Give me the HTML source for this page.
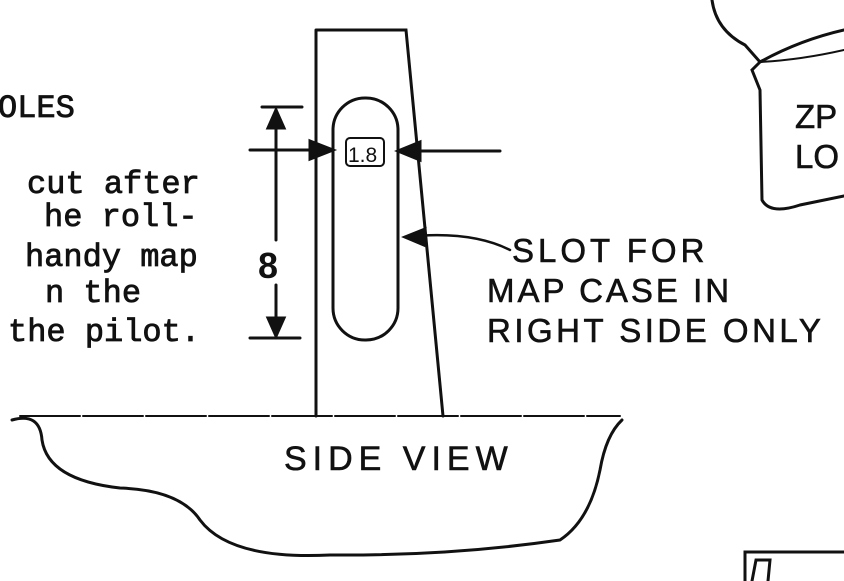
<!DOCTYPE html>
<html><head><meta charset="utf-8"><style>
html,body{margin:0;padding:0;background:#fff;width:844px;height:581px;overflow:hidden}
svg{display:block}
.mono{font-family:"Liberation Mono",monospace;font-size:32px;fill:#111;stroke:#111;stroke-width:0.8}
.hand{font-family:"Liberation Sans",sans-serif;font-size:33px;fill:#111;stroke:#111;stroke-width:0.6}
</style></head><body>
<svg width="844" height="581" viewBox="0 0 844 581" stroke="#111" fill="none" stroke-width="3" stroke-linecap="round">
<g>
<text class="mono" x="-2" y="117">OLES</text>
<text class="mono" x="27" y="193">cut after</text>
<text class="mono" x="44" y="226">he roll-</text>
<text class="mono" x="25" y="266">handy map</text>
<text class="mono" x="45" y="302">n the</text>
<text class="mono" x="8" y="341">the pilot.</text>
</g>
<g>
<path d="M316 30 L406 30 L443 416 M316 30 L316 416"/>
<rect x="333" y="98" width="65" height="242" rx="32" ry="32"/>
<rect x="346" y="138" width="38" height="28" rx="4" stroke-width="2"/>
</g>
<text x="348" y="162" stroke="none" fill="#111" style="font-family:'Liberation Sans',sans-serif;font-size:21px">1.8</text>
<g>
<path d="M262 107 L302 107 M250 338 L300 338 M276 110 L276 240 M276 285 L276 336"/>
<path d="M268 128 L276 110 L284 128 Z M268 318 L276 336 L284 318 Z" fill="#111"/>
</g>
<text x="258" y="278" stroke="none" fill="#111" style="font-family:'Liberation Sans',sans-serif;font-size:36px;font-weight:bold">8</text>
<g>
<path d="M250 150 L333 150 M398 151 L500 151"/>
<path d="M310 141 L333 150 L310 159 Z M420 142 L398 151 L420 160 Z" fill="#111"/>
</g>
<g>
<path d="M405 237 Q470 230 510 250" stroke-width="2.5"/>
<path d="M405 237 L425 229 L424 245 Z" fill="#111"/>
</g>
<g>
<text class="hand" x="512" y="262" style="letter-spacing:4px">SLOT FOR</text>
<text class="hand" x="487" y="302" style="letter-spacing:3px">MAP CASE IN</text>
<text class="hand" x="487" y="342" style="letter-spacing:3.5px">RIGHT SIDE ONLY</text>
<text class="hand" x="284" y="470" style="letter-spacing:6px;font-size:34px">SIDE VIEW</text>
<text class="hand" x="795" y="128">ZP</text>
<text class="hand" x="795" y="168">LO</text>
</g>
<g>
<path d="M20 416 L620 416" stroke-width="2" stroke-dasharray="60 3"/>
<path d="M12 420 Q40 412 42 440 Q48 480 120 488 Q180 490 200 520 Q230 560 330 555 Q450 556 560 540 Q590 520 600 470 Q606 435 622 420" stroke-width="3"/>
</g>
<g>
<path d="M712 0 Q716 30 745 45 L760 62 Q800 40 844 30 M760 62 L752 70 L760 90 L762 200 Q770 215 800 205 L844 196"/>
<path d="M760 62 Q800 60 844 50" stroke-width="2"/>
</g>
<g>
<path d="M745 581 L745 552 L844 552 M752 581 L756 560 L770 560 L768 581"/>
</g>
</svg>
</body></html>
